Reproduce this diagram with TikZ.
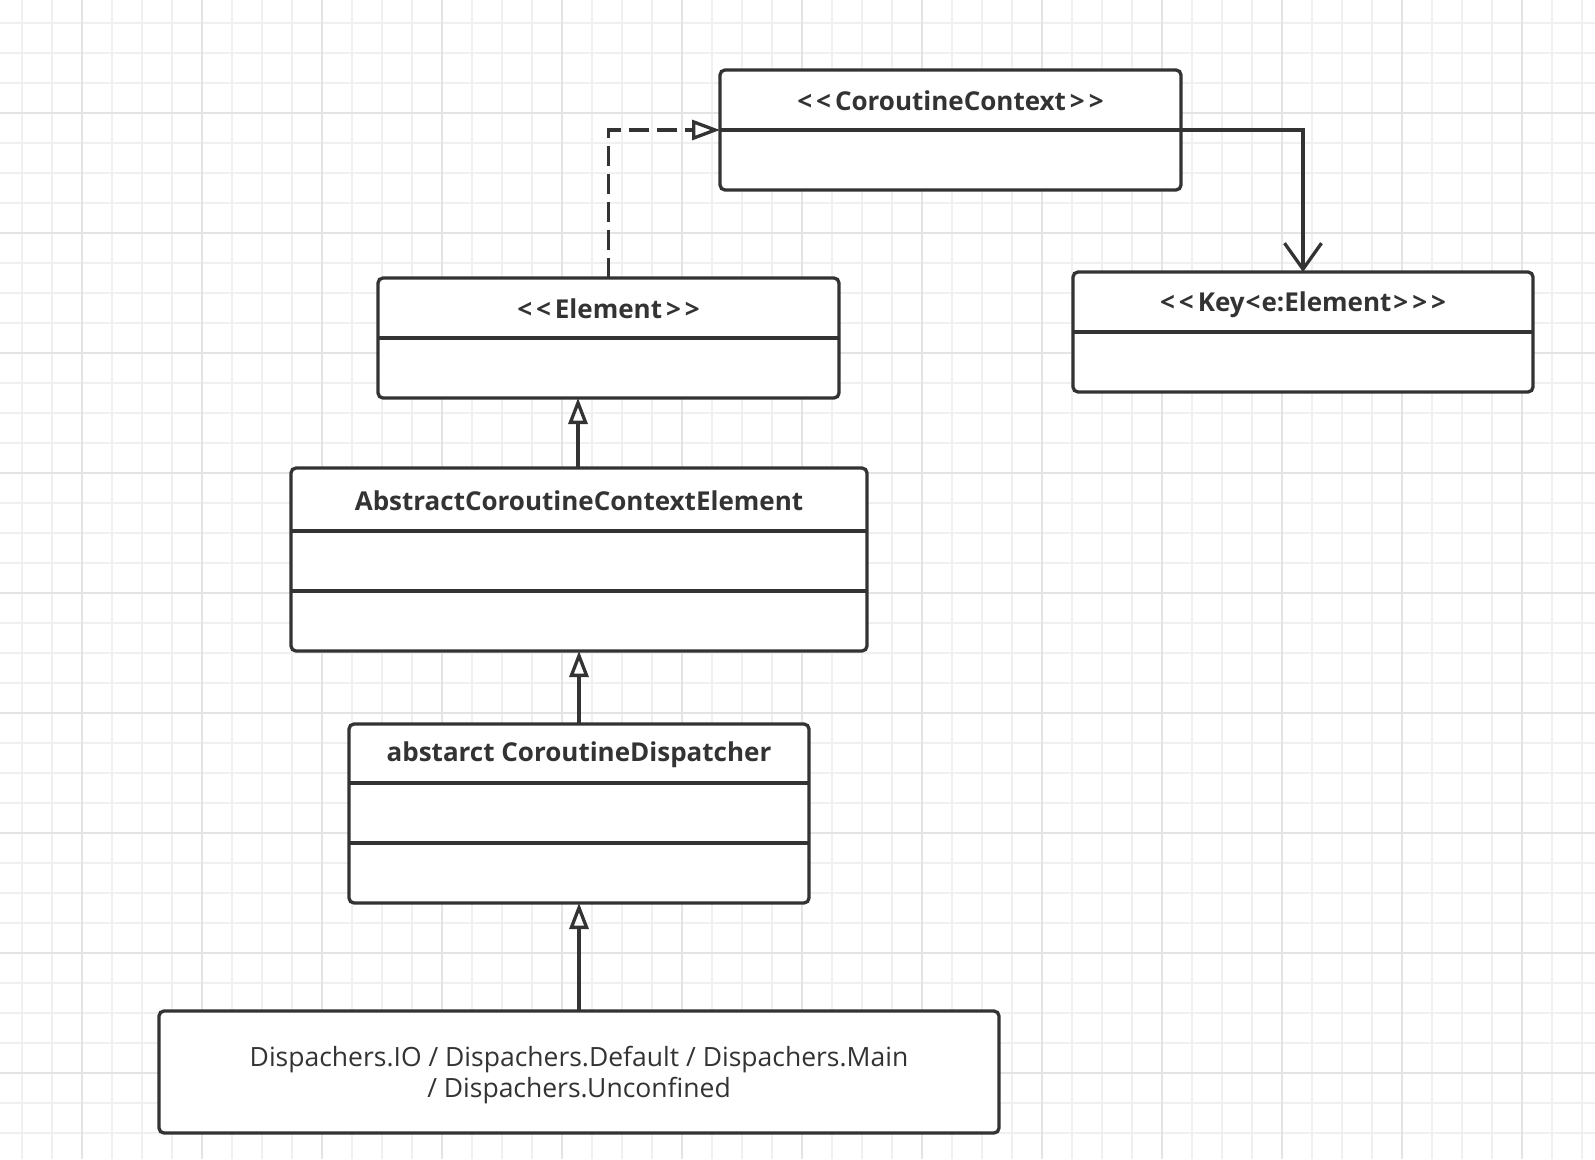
\documentclass[tikz,border=0pt]{standalone}
\usepackage{fontspec}
\setmainfont{Open Sans}
\usetikzlibrary{arrows.meta}
\definecolor{ink}{HTML}{333333}
\definecolor{gridminor}{HTML}{F0F0F0}
\definecolor{gridmajor}{HTML}{E4E4E4}
\newcommand{\lsp}{\hspace{4pt}}
\tikzset{
  umlbox/.style={draw=ink, line width=3.3pt, rounded corners=5pt, fill=white, inner sep=0pt, outer sep=0pt},
  divider/.style={draw=ink, line width=3.3pt},
  title/.style={font=\bfseries\fontsize{26}{30}\selectfont, text=ink, inner sep=0pt},
  plain/.style={font=\fontsize{26.5}{31.5}\selectfont, text=ink, align=center, inner sep=0pt},
  conn/.style={draw=ink, line width=3.3pt},
  inherit/.style={conn, -{Triangle[open, length=26pt, width=19pt, line width=3.3pt]}},
  realize/.style={conn, dash pattern=on 20pt off 8pt, -{Triangle[open, length=28pt, width=20pt, line width=3.3pt]}},
  assoc/.style={conn, -{Straight Barb[length=26pt, width=37pt, line width=3.3pt]}},
}
\begin{document}
\begin{tikzpicture}[x=1pt, y=-1pt]
\fill[white] (0,0) rectangle (1595,1159);
\useasboundingbox (0,0) rectangle (1595,1159);
% grid
\foreach \x in {22,52,...,1595} \draw[gridminor, line width=1.5pt] (\x,0) -- (\x,1159);
\foreach \y in {23,53,...,1159} \draw[gridminor, line width=1.5pt] (0,\y) -- (1595,\y);
\foreach \x in {82,202,...,1595} \draw[gridmajor, line width=1.5pt] (\x,0) -- (\x,1159);
\foreach \y in {113,233,...,1159} \draw[gridmajor, line width=1.5pt] (0,\y) -- (1595,\y);

% boxes
\node[umlbox, minimum width=461pt, minimum height=120pt] (cc) at (950.5,130) {};
\draw[divider] (cc.west) -- (cc.east);
\node[title] (cct) at (950.5,101) {<\lsp<\lsp CoroutineContext\lsp>\lsp>};

\node[umlbox, minimum width=460pt, minimum height=120pt] (key) at (1303,332) {};
\draw[divider] (key.west) -- (key.east);
\node[title] (keyt) at (1303,305) {<\lsp<\lsp Key\hspace{1pt}<\hspace{1pt}e:Element\hspace{2pt}>\lsp>\lsp>};

\node[umlbox, minimum width=461pt, minimum height=120pt] (el) at (608.5,338) {};
\draw[divider] (el.west) -- (el.east);
\node[title] (elt) at (608.5,309) {<\lsp<\lsp Element\lsp>\lsp>};

\node[umlbox, minimum width=576pt, minimum height=183pt] (acce) at (579,559.5) {};
\draw[divider] (acce.west |- 0,531) -- (acce.east |- 0,531);
\draw[divider] (acce.west |- 0,591) -- (acce.east |- 0,591);
\node[title] (accet) at (579,501) {AbstractCoroutineContextElement};

\node[umlbox, minimum width=460pt, minimum height=179pt] (cd) at (579,813.5) {};
\draw[divider] (cd.west |- 0,783) -- (cd.east |- 0,783);
\draw[divider] (cd.west |- 0,843) -- (cd.east |- 0,843);
\node[title] (cdt) at (579,755) {abstarct CoroutineDispatcher};

\node[umlbox, minimum width=840pt, minimum height=122pt] (disp) at (579,1072) {};
\node[plain] (dispt) at (579,1075) {Dispachers.IO / Dispachers.Default / Dispachers.Main\\/ Dispachers.Unconfined};

% connectors
\draw[realize] (el.north) |- (cc.west);
\draw[assoc] (cc.east) -| (key.north);
\draw[inherit] (acce.north -| 578,0) -- (el.south -| 578,0);
\draw[inherit] (cd.north) -- (acce.south);
\draw[inherit] (disp.north) -- (cd.south);
\end{tikzpicture}
\end{document}
